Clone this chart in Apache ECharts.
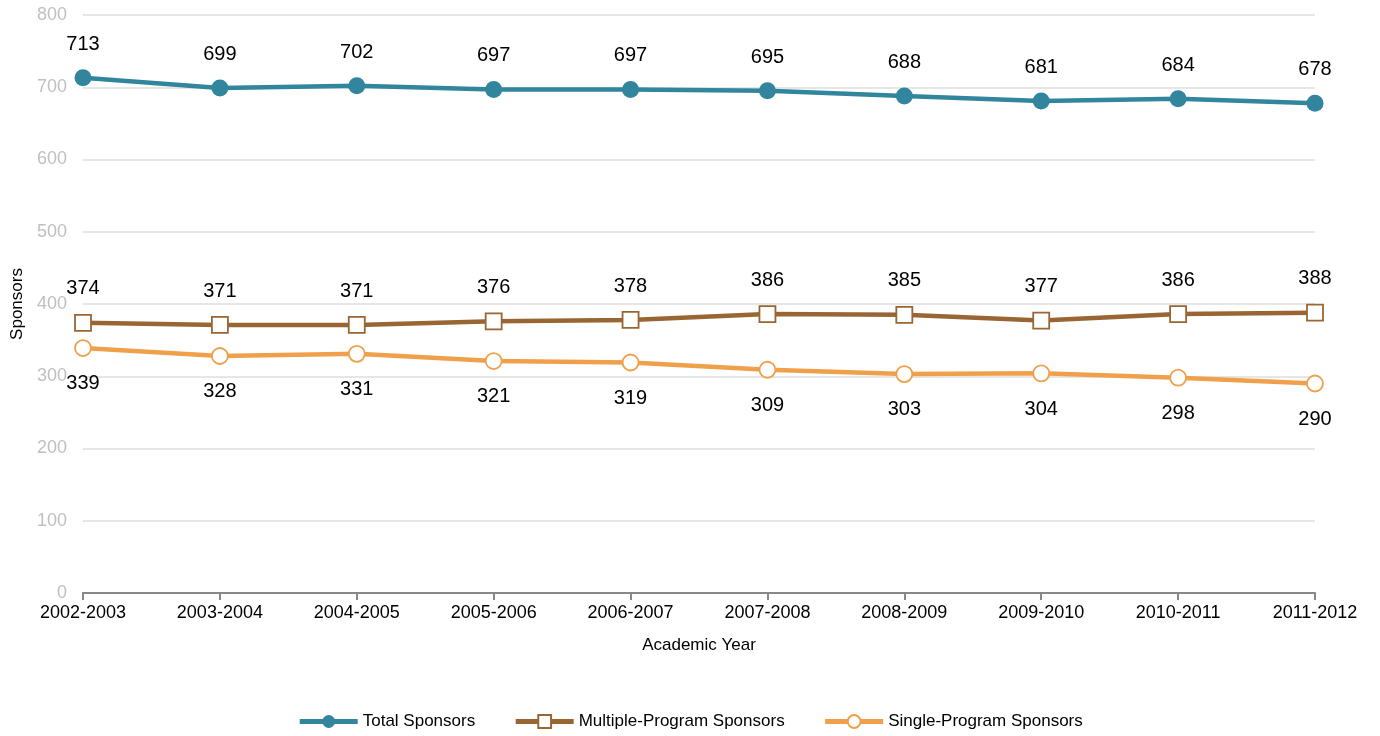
<!DOCTYPE html>
<html>
<head>
<meta charset="utf-8">
<script src="https://cdn.jsdelivr.net/npm/echarts@6/dist/echarts.min.js"></script>
<style>
  html, body { margin: 0; padding: 0; background: #fff; }
  #chart { width: 1380px; height: 736px; }
</style>
</head>
<body>
<div id="chart"></div>
<script>
// academic years on the x axis
var years = ["2002-2003", "2003-2004", "2004-2005", "2005-2006", "2006-2007",
  "2007-2008", "2008-2009", "2009-2010", "2010-2011", "2011-2012"];
var totalSponsors = [713, 699, 702, 697, 697, 695, 688, 681, 684, 678];
var multipleSponsors = [374, 371, 371, 376, 378, 386, 385, 377, 386, 388];
var singleSponsors = [339, 328, 331, 321, 319, 309, 303, 304, 298, 290];

var myChart = echarts.init(document.getElementById("chart"));

function lineSeries(name, data, color, symbol, size, labelPos, filled) {
  return {
    name: name,
    type: "line",
    data: data,
    symbol: symbol,
    symbolSize: size,
    showAllSymbol: true,
    lineStyle: { color: color, width: 4.5 },
    itemStyle: {
      color: filled ? color : "#fff",
      borderColor: color,
      borderWidth: filled ? 0 : 1.8
    },
    label: {
      show: true,
      position: labelPos,
      distance: labelPos == "bottom" ? 17 : 15,
      color: "#000",
      fontSize: 20,
      fontFamily: "Liberation Sans, Arial, sans-serif"
    },
    emphasis: { disabled: true },
    z: 3
  };
}

var options = {
  animation: false,
  textStyle: { fontFamily: "Liberation Sans, Arial, sans-serif" },
  grid: { left: 83, right: 65, top: 15, bottom: 143 },
  legend: {
    bottom: 1,
    left: "center",
    itemWidth: 58,
    itemHeight: 16,
    itemGap: 38,
    textStyle: { fontSize: 17, color: "#000" },
    lineStyle: { width: 5 },
    data: ["Total Sponsors", "Multiple-Program Sponsors", "Single-Program Sponsors"]
  },
  xAxis: {
    type: "category",
    data: years,
    boundaryGap: false,
    name: "Academic Year",
    nameLocation: "middle",
    nameGap: 44,
    nameTextStyle: { fontSize: 17, color: "#000" },
    axisLine: { lineStyle: { color: "#888", width: 2 } },
    axisTick: { show: true, length: 7, lineStyle: { color: "#888", width: 2 } },
    axisLabel: { fontSize: 18, color: "#000", margin: 11 }
  },
  yAxis: {
    type: "value",
    min: 0,
    max: 800,
    interval: 100,
    name: "Sponsors",
    nameLocation: "middle",
    nameGap: 56,
    nameTextStyle: { fontSize: 17, color: "#000" },
    axisLine: { show: false },
    axisTick: { show: false },
    axisLabel: { fontSize: 18, color: "#c0c0c0", margin: 16 },
    splitLine: { lineStyle: { color: "#e6e6e6", width: 2 } }
  },
  series: [
    lineSeries("Total Sponsors", totalSponsors, "#31859c", "circle", 17, "top", true),
    lineSeries("Multiple-Program Sponsors", multipleSponsors, "#996633", "rect", 16, "top", false),
    lineSeries("Single-Program Sponsors", singleSponsors, "#f0a04b", "circle", 16, "bottom", false)
  ]
};
myChart.setOption(options);
</script>
</body>
</html>
